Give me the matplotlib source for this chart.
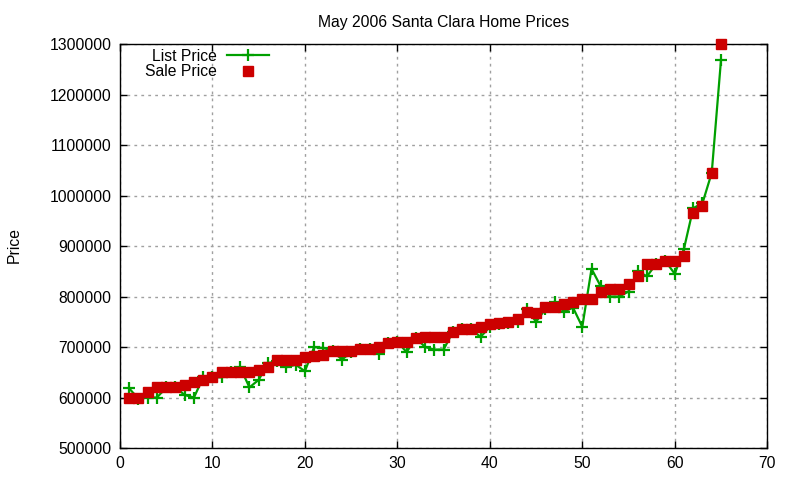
import numpy as np
import matplotlib
matplotlib.use('Agg')
import matplotlib.pyplot as plt

plt.rcParams['font.family'] = ['Liberation Sans', 'DejaVu Sans']

# 매물 번호 1~65
home_idx = list(range(1, 66))

list_price = [
    618000, 597000, 600000, 600000, 620000, 620000, 605000, 600000, 640000, 640000,
    640000, 650000, 660000, 620000, 635000, 668000, 672000, 660000, 665000, 652000,
    700000, 698000, 693000, 675000, 690000, 697000, 697000, 687000, 707000, 710000,
    690000, 718000, 700000, 695000, 695000, 730000, 735000, 735000, 720000, 740000,
    745000, 748000, 750000, 775000, 750000, 775000, 790000, 770000, 778000, 740000,
    855000, 820000, 800000, 800000, 810000, 850000, 840000, 865000, 870000, 845000,
    895000, 975000, 985000, 1045000, 1268000,
]

sale_price = [
    600000, 600000, 610000, 620000, 620000, 620000, 625000, 630000, 635000, 640000,
    650000, 650000, 650000, 650000, 655000, 660000, 675000, 675000, 675000, 680000,
    682000, 685000, 693000, 693000, 693000, 697000, 697000, 700000, 707000, 710000,
    710000, 718000, 720000, 720000, 720000, 730000, 735000, 735000, 740000, 745000,
    748000, 750000, 755000, 770000, 768000, 780000, 780000, 785000, 790000, 795000,
    795000, 810000, 815000, 815000, 825000, 840000, 865000, 865000, 870000, 870000,
    880000, 965000, 980000, 1045000, 1300000,
]

x_ticks = np.arange(0, 71, 10)
y_ticks = np.arange(500000, 1300001, 100000)

fig = plt.figure(figsize=(8, 4.8), dpi=100, facecolor='white')
ax = fig.add_axes([0.15, 0.0667, 0.809, 0.8413])

ax.plot(home_idx, list_price, color='#00a000', linewidth=1.6,
        marker='+', markersize=9, markeredgewidth=1.6, label='List Price',
        clip_on=False, zorder=3)
ax.plot(home_idx, sale_price, linestyle='none', color='#cc0000',
        marker='s', markersize=7, label='Sale Price', clip_on=False, zorder=4)

ax.set_xlim(0, 70)
ax.set_ylim(500000, 1300000)
ax.set_xticks(x_ticks)
ax.set_yticks(y_ticks)
ax.ticklabel_format(axis='y', style='plain', useOffset=False)
ax.tick_params(direction='in', length=5, width=1, top=True, right=True,
               labelsize=11.3, pad=6, colors='black')
ax.grid(True, color='#a0a0a0', linestyle=(0, (2, 3)), linewidth=1)
for sp in ax.spines.values():
    sp.set_linewidth(1)

ax.set_title('May 2006 Santa Clara Home Prices', fontsize=11.3, pad=12)
fig.text(0.008, 0.49, 'Price', rotation=90, fontsize=11.3, va='center', ha='left')

leg = ax.legend(loc='upper left', bbox_to_anchor=(0.02, 1.02), frameon=False,
                markerfirst=False, fontsize=11.3, handlelength=2.7,
                handletextpad=0.6, labelspacing=0.05, borderpad=0.3)

plt.savefig('out.png', dpi=100, facecolor='white')
plt.close(fig)
